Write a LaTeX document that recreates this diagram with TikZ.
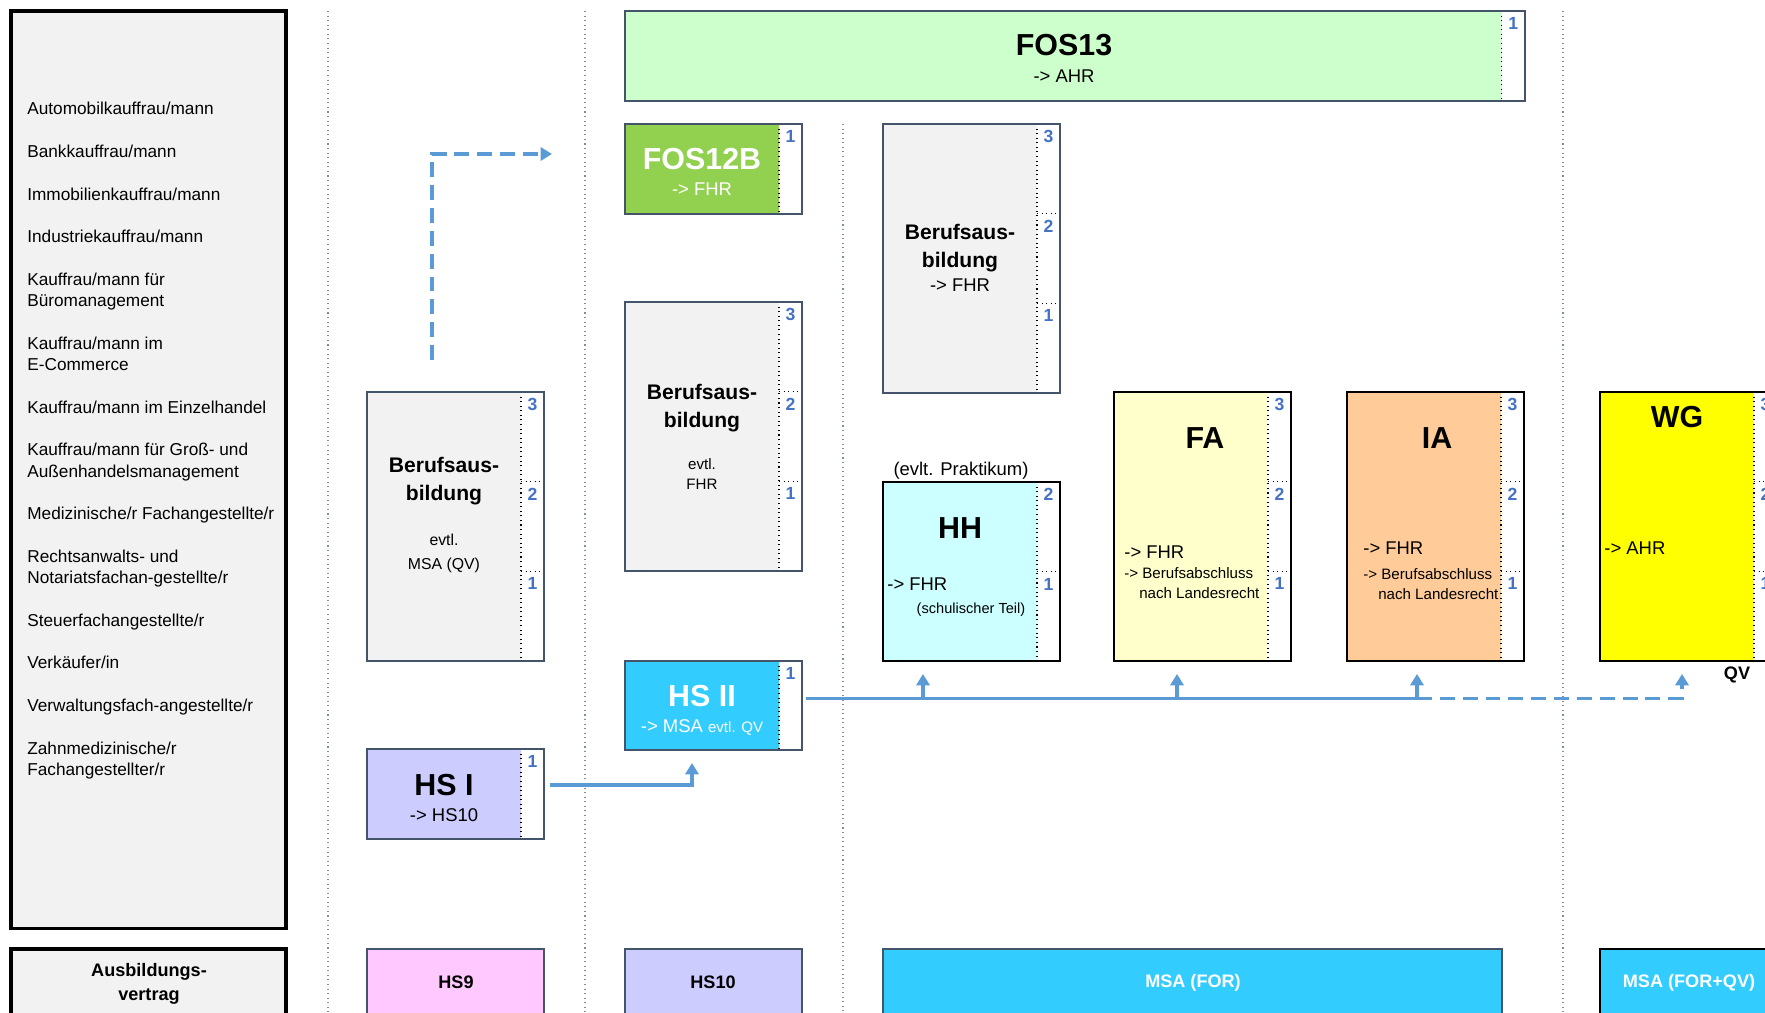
\documentclass[tikz,border=0pt]{standalone}
\usepackage{fontspec}
\setmainfont{Liberation Sans}
\usetikzlibrary{positioning,calc,arrows.meta}

\definecolor{rand}{HTML}{44546A}
\definecolor{pfeilblau}{HTML}{5B9BD5}
\definecolor{jahrblau}{HTML}{4472C4}
\definecolor{trenner}{HTML}{7F8C9E}
\definecolor{grau}{HTML}{F2F2F2}
\definecolor{fosgruen}{HTML}{CCFFCC}
\definecolor{fosbgruen}{HTML}{92D050}
\definecolor{lila}{HTML}{CCCCFF}
\definecolor{hsblau}{HTML}{33CCFF}
\definecolor{rosa}{HTML}{FFC8FF}
\definecolor{hhcyan}{HTML}{CCFFFF}
\definecolor{fagelb}{HTML}{FFFFCC}
\definecolor{iaorange}{HTML}{FFCC99}
\definecolor{wggelb}{HTML}{FFFF00}

% Jahresleiste: farbiger Teil, Leiste, Anzahl Jahre
\newcommand{\jahre}[3]{%
	\draw[dotted, line width=0.6pt] (#1.north east) -- (#1.south east);
	\foreach \k [evaluate=\k as \pos using (\k-1)/#3, evaluate=\k as \nr using int(#3-\k+1)] in {1,...,#3}{
		\draw[dotted, line width=0.6pt] ($(#1.north east)!\pos!(#1.south east)$) -- ($(#2.north east)!\pos!(#2.south east)$);
		\node[jahr] (#2-\nr) at ($(#2.north)!\pos!(#2.south)$) {\nr};
	}
}

\begin{document}
\begin{tikzpicture}[x=0.02cm, y=-0.02cm,
	kasten/.style={rectangle, inner sep=0pt, outer sep=0pt, anchor=north west},
	leiste/.style={rectangle, fill=white, inner sep=0pt, outer sep=0pt, minimum width=0.46cm},
	rahmen/.style={draw=rand, line width=1.5pt},
	rahmens/.style={draw=black, line width=1.5pt},
	jahr/.style={anchor=north, yshift=-2.5pt, inner sep=1pt, text=jahrblau, font=\fontsize{10}{11}\selectfont\bfseries},
	gross/.style={font=\fontsize{17.3}{20}\selectfont\bfseries},
	mittel/.style={align=center, font=\fontsize{12}{15.5}\selectfont\bfseries},
	normal/.style={font=\fontsize{10.5}{12}\selectfont},
	klein/.style={align=center, font=\fontsize{9}{12}\selectfont},
	mini/.style={align=left, inner sep=0pt, font=\fontsize{8.6}{11.3}\selectfont},
	unten/.style={align=center, font=\fontsize{10.3}{14}\selectfont\bfseries},
	linie/.style={draw=pfeilblau, line width=2pt},
	pfeil/.style={linie, -{Triangle[width=7.5pt,length=6.5pt]}},
	gestrichelt/.style={dash pattern=on 8.5pt off 4.5pt},
	spalte/.style={draw=trenner, line width=0.6pt, dotted}]
\useasboundingbox (0,0) rectangle (1765,1013);

% Spaltentrenner
\draw[spalte] (328,11) -- (328,1013);
\draw[spalte] (585,11) -- (585,1013);
\draw[spalte] (843,124) -- (843,1013);
\draw[spalte] (1563,11) -- (1563,1013);

% Ausbildungsberufe
\node[kasten, fill=grau, draw=black, line width=1.8pt, minimum width=5.5cm, minimum height=18.36cm] (berufe) at (11,11) {};
\node[anchor=north west, inner sep=0pt, align=left, font=\fontsize{9.8}{12.13}\selectfont] (liste) at (27,102) {%
	Automobilkauffrau/mann\\[12.13pt]
	Bankkauffrau/mann\\[12.13pt]
	Immobilienkauffrau/mann\\[12.13pt]
	Industriekauffrau/mann\\[12.13pt]
	Kauffrau/mann für\\Büromanagement\\[12.13pt]
	Kauffrau/mann im\\E-Commerce\\[12.13pt]
	Kauffrau/mann im Einzelhandel\\[12.13pt]
	Kauffrau/mann für Groß- und\\Außenhandelsmanagement\\[12.13pt]
	Medizinische/r Fachangestellte/r\\[12.13pt]
	Rechtsanwalts- und\\Notariatsfachan-gestellte/r\\[12.13pt]
	Steuerfachangestellte/r\\[12.13pt]
	Verkäufer/in\\[12.13pt]
	Verwaltungsfach-angestellte/r\\[12.13pt]
	Zahnmedizinische/r\\Fachangestellter/r};
\node[kasten, fill=grau, draw=black, line width=1.8pt, minimum width=5.5cm, minimum height=1.6cm] (vertrag) at (11,949) {};
\node[unten] (vertrag-t) at (149,984) {Ausbildungs-\\vertrag};

% Spalte 1
\node[kasten, fill=grau, minimum width=3.08cm, minimum height=5.38cm] (beruf1) at (367,392) {};
\node[leiste, minimum height=5.38cm, right=0pt of beruf1] (beruf1-j) {};
\jahre{beruf1}{beruf1-j}{3}
\draw[rahmen] (beruf1.north west) rectangle (beruf1-j.south east);
\node[mittel] (beruf1-t) at (444,481) {Berufsaus-\\bildung};
\node[klein, font=\fontsize{9}{13.6}\selectfont] (beruf1-s) at (444,553) {evtl.\\MSA (QV)};

\node[kasten, fill=lila, minimum width=3.08cm, minimum height=1.8cm] (hs1) at (367,749) {};
\node[leiste, minimum height=1.8cm, right=0pt of hs1] (hs1-j) {};
\jahre{hs1}{hs1-j}{1}
\draw[rahmen] (hs1.north west) rectangle (hs1-j.south east);
\node[gross] (hs1-t) at (444,785) {HS I};
\node[normal] (hs1-s) at (444,815) {-> HS10};

\node[kasten, fill=rosa, rahmen, minimum width=3.54cm, minimum height=1.6cm] (hs9) at (367,949) {};
\node[unten] (hs9-t) at (456,982) {HS9};

% Spalte 2
\node[kasten, fill=fosgruen, minimum width=17.54cm, minimum height=1.8cm] (fos13) at (625,11) {};
\node[leiste, minimum height=1.8cm, right=0pt of fos13] (fos13-j) {};
\jahre{fos13}{fos13-j}{1}
\draw[rahmen] (fos13.north west) rectangle (fos13-j.south east);
\node[gross] (fos13-t) at (1064,45) {FOS13};
\node[normal] (fos13-s) at (1064,76) {-> AHR};

\node[kasten, fill=fosbgruen, minimum width=3.08cm, minimum height=1.8cm] (fos12b) at (625,124) {};
\node[leiste, minimum height=1.8cm, right=0pt of fos12b] (fos12b-j) {};
\jahre{fos12b}{fos12b-j}{1}
\draw[rahmen] (fos12b.north west) rectangle (fos12b-j.south east);
\node[gross, text=white] (fos12b-t) at (702,159) {FOS12B};
\node[normal, text=white] (fos12b-s) at (702,189) {-> FHR};

\node[kasten, fill=grau, minimum width=3.08cm, minimum height=5.38cm] (beruf2) at (625,302) {};
\node[leiste, minimum height=5.38cm, right=0pt of beruf2] (beruf2-j) {};
\jahre{beruf2}{beruf2-j}{3}
\draw[rahmen] (beruf2.north west) rectangle (beruf2-j.south east);
\node[mittel] (beruf2-t) at (702,408) {Berufsaus-\\bildung};
\node[klein, font=\fontsize{8.6}{11.3}\selectfont] (beruf2-s) at (702,474) {evtl.\\FHR};

\node[kasten, fill=hsblau, minimum width=3.08cm, minimum height=1.78cm] (hs2) at (625,661) {};
\node[leiste, minimum height=1.78cm, right=0pt of hs2] (hs2-j) {};
\jahre{hs2}{hs2-j}{1}
\draw[rahmen] (hs2.north west) rectangle (hs2-j.south east);
\node[gross, text=white] (hs2-t) at (702,696) {HS II};
\node[normal, text=white] (hs2-s) at (702,727) {-> MSA {\fontsize{8.6}{10}\selectfont evtl. QV}};

\node[kasten, fill=lila, rahmen, minimum width=3.54cm, minimum height=1.6cm] (hs10) at (625,949) {};
\node[unten] (hs10-t) at (713,982) {HS10};

% Spalte 3
\node[kasten, fill=grau, minimum width=3.08cm, minimum height=5.38cm] (beruf3) at (883,124) {};
\node[leiste, minimum height=5.38cm, right=0pt of beruf3] (beruf3-j) {};
\jahre{beruf3}{beruf3-j}{3}
\draw[rahmen] (beruf3.north west) rectangle (beruf3-j.south east);
\node[mittel] (beruf3-t) at (960,248) {Berufsaus-\\bildung};
\node[normal] (beruf3-s) at (960,285) {-> FHR};

\node[kasten, fill=hhcyan, minimum width=3.08cm, minimum height=3.58cm] (hh) at (883,482) {};
\node[leiste, minimum height=3.58cm, right=0pt of hh] (hh-j) {};
\jahre{hh}{hh-j}{2}
\draw[rahmens] (hh.north west) rectangle (hh-j.south east);
\node[normal] (hh-p) at (961,471) {(evlt. Praktikum)};
\node[gross] (hh-t) at (960,528) {HH};
\node[normal, anchor=west, inner sep=0pt] (hh-s) at (887,584) {-> FHR};
\node[mini, font=\fontsize{8.3}{10}\selectfont] (hh-u) at (971,610) {(schulischer Teil)};

\node[kasten, fill=hsblau, rahmen, minimum width=12.38cm, minimum height=1.6cm] (msafor) at (883,949) {};
\node[unten, text=white] (msafor-t) at (1193,983) {MSA (FOR)};

\node[kasten, fill=fagelb, minimum width=3.08cm, minimum height=5.38cm] (fa) at (1114,392) {};
\node[leiste, minimum height=5.38cm, right=0pt of fa] (fa-j) {};
\jahre{fa}{fa-j}{3}
\draw[rahmens] (fa.north west) rectangle (fa-j.south east);
\node[gross] (fa-t) at (1205,438) {FA};
\node[normal, anchor=west, inner sep=0pt] (fa-s) at (1124,552) {-> FHR};
\node[mini, anchor=west] (fa-u) at (1124,583) {-> Berufsabschluss\\\hspace*{8.5pt}nach Landesrecht};

\node[kasten, fill=iaorange, minimum width=3.08cm, minimum height=5.38cm] (ia) at (1347,392) {};
\node[leiste, minimum height=5.38cm, right=0pt of ia] (ia-j) {};
\jahre{ia}{ia-j}{3}
\draw[rahmens] (ia.north west) rectangle (ia-j.south east);
\node[gross] (ia-t) at (1437,438) {IA};
\node[normal, anchor=west, inner sep=0pt] (ia-s) at (1363,548) {-> FHR};
\node[mini, anchor=west] (ia-u) at (1363,584) {-> Berufsabschluss\\\hspace*{8.5pt}nach Landesrecht};

% Spalte 4
\node[kasten, fill=wggelb, minimum width=3.08cm, minimum height=5.38cm] (wg) at (1600,392) {};
\node[leiste, minimum height=5.38cm, right=0pt of wg] (wg-j) {};
\jahre{wg}{wg-j}{3}
\draw[rahmens] (wg.north west) rectangle (wg-j.south east);
\node[gross] (wg-t) at (1677,417) {WG};
\node[normal, anchor=west, inner sep=0pt] (wg-s) at (1604,548) {-> AHR};
\node[unten] (qv) at (1737,675) {QV};

\node[kasten, fill=hsblau, rahmens, minimum width=3.54cm, minimum height=1.6cm] (msaforqv) at (1600,949) {};
\node[unten, text=white] (msaforqv-t) at (1689,983) {MSA (FOR+QV)};

% Pfeile
\coordinate (d-start) at (432,360);
\coordinate (d-ende) at (552,154);
\draw[pfeil, gestrichelt] (d-start) |- (d-ende);

\draw[pfeil, shorten >=0.26cm] ($(hs1-j.east)+(6,-9)$) -| ($(hs2.south)+(-10,0)$);

\coordinate (bus) at ($(hs2-j.east)+(4,-7)$);
\coordinate (hh-a) at ($(hh.south west)+(40,0)$);
\coordinate (fa-a) at ($(fa.south west)+(63,0)$);
\coordinate (ia-a) at ($(ia.south west)+(70,0)$);
\coordinate (wg-a) at ($(wg.south west)+(82,0)$);
\draw[linie] (bus) -- (ia-a |- bus);
\foreach \z in {hh-a, fa-a, ia-a}
	\draw[pfeil, shorten >=0.26cm] (\z |- bus) -- (\z);
\draw[pfeil, gestrichelt, shorten >=0.26cm] (ia-a |- bus) -| (wg-a);
\end{tikzpicture}
\end{document}
